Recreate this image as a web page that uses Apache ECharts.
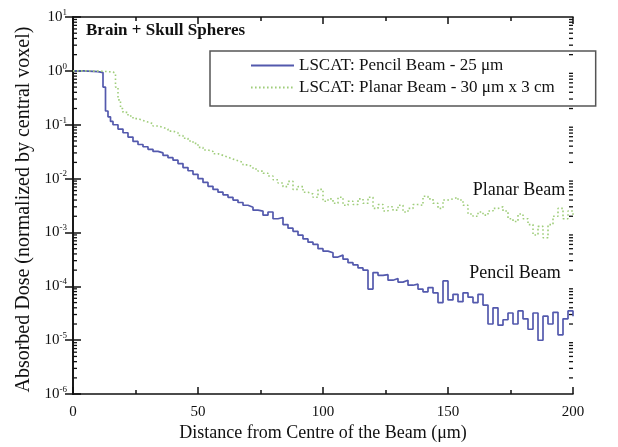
<!DOCTYPE html>
<html><head><meta charset="utf-8">
<script src="https://cdn.jsdelivr.net/npm/echarts@6/dist/echarts.min.js"></script>
<style>html,body{margin:0;padding:0;background:#fff}#c{width:618px;height:447px}</style>
</head><body><div id="c"></div>
<script>
const xPencil = [0,2,4,6,8,10,11,12,13,14,15,16,18,20,22,24,26,28,30,32,34,36,38,40,42,44,46,48,50,52,54,56,58,60,62,64,66,68,70,72,74,76,78,80,82,84,86,88,90,92,94,96,98,100,102,104,106,108,110,112,114,116,118,120,122,124,126,128,130,132,134,136,138,140,142,144,146,148,150,152,154,156,158,160,162,164,166,168,170,172,174,176,178,180,182,184,186,188,190,192,194,196,198,200];
const pencilDose = [1.0,1.0,0.99,0.98,0.97,0.95,0.93,0.5,0.18,0.14,0.115,
 1.0e-1,8.3e-2,7.1e-2,5.9e-2,4.9e-2,4.3e-2,3.9e-2,3.5e-2,3.2e-2,3.0e-2,2.7e-2,2.45e-2,2.2e-2,1.9e-2,1.6e-2,1.4e-2,1.2e-2,
 1.0e-2,8.5e-3,7.2e-3,6.3e-3,5.6e-3,5.0e-3,4.5e-3,4.0e-3,3.6e-3,3.2e-3,2.95e-3,2.6e-3,2.5e-3,2.1e-3,2.4e-3,1.8e-3,1.9e-3,1.4e-3,1.2e-3,1.05e-3,
 8.9e-4,7.6e-4,6.6e-4,6.0e-4,5.0e-4,4.5e-4,4.2e-4,3.5e-4,3.8e-4,3.2e-4,2.75e-4,2.5e-4,2.2e-4,2.0e-4,8.9e-5,1.8e-4,1.6e-4,1.65e-4,1.3e-4,1.4e-4,
 1.2e-4,1.3e-4,1.05e-4,1.1e-4,8.9e-5,7.9e-5,9.5e-5,7.6e-5,5.0e-5,1.26e-4,5.6e-5,7.1e-5,5.2e-5,7.6e-5,6.3e-5,5.0e-5,7.1e-5,4.5e-5,2.0e-5,4.0e-5,
 1.9e-5,2.4e-5,3.2e-5,2.0e-5,3.5e-5,2.5e-5,1.6e-5,3.2e-5,1.0e-5,2.8e-5,2.0e-5,3.3e-5,1.26e-5,2.5e-5,3.5e-5,2.8e-5];
const xPlanar = [0,2,4,6,8,10,12,14,16,17,18,19,20,22,24,26,28,30,32,34,36,38,40,42,44,46,48,50,52,54,56,58,60,62,64,66,68,70,72,74,76,78,80,82,84,86,88,90,92,94,96,98,100,102,104,106,108,110,112,114,116,118,120,122,124,126,128,130,132,134,136,138,140,142,144,146,148,150,152,154,156,158,160,162,164,166,168,170,172,174,176,178,180,182,184,186,188,190,192,194,196,198,200];
const planarDose = [1.0,1.0,1.0,0.99,0.99,0.98,0.97,0.95,0.9,0.5,0.29,0.2,
 0.17,0.145,0.13,0.12,0.112,0.105,0.095,0.089,0.083,0.076,0.071,0.063,0.056,0.05,0.045,
 0.038,0.034,0.032,0.029,0.027,0.025,0.023,0.0214,0.02,0.018,0.0166,0.0151,0.0138,0.0126,0.0112,
 0.0095,0.0083,0.0071,0.0089,0.0063,0.0071,0.0056,0.0052,0.0045,0.0063,
 0.0038,0.0042,0.0035,0.0045,0.0032,0.0038,0.0033,0.0042,0.0035,0.0045,
 0.0028,0.0033,0.0025,0.003,0.0026,0.0032,0.0024,0.0028,0.0033,0.0032,
 0.0047,0.0042,0.0035,0.0028,0.004,0.0042,0.0045,0.004,0.0032,0.0022,
 0.002,0.0024,0.0021,0.0025,0.0028,0.003,0.0025,0.0018,0.0016,0.0022,
 0.0018,0.0014,0.0009,0.0013,0.0008,0.0014,0.002,0.0028,0.0018,0.0025,0.002];
const xTicks = {min: 0, max: 200, interval: 50};
const yDecades = {minExp: -6, maxExp: 1};
const legendNames = ['LSCAT: Pencil Beam - 25 \u03bcm', 'LSCAT: Planar Beam - 30 \u03bcm x 3 cm'];
const annotations = ['Planar Beam', 'Pencil Beam'];

const FONT = "'Liberation Serif', 'DejaVu Serif', serif";
const yMin = Math.pow(10, yDecades.minExp), yMax = Math.pow(10, yDecades.maxExp);
const minorVals = [];
for (let e = yDecades.minExp; e < yDecades.maxExp; e++) {
  for (let k = 2; k <= 9; k++) minorVals.push([0, k * Math.pow(10, e)]);
}
const chart = echarts.init(document.getElementById('c'), null, {renderer: 'canvas'});
const axisLine = {show: true, lineStyle: {color: '#111', width: 1.6}};
chart.setOption({
  animation: false,
  backgroundColor: '#fff',
  title: {text: 'Brain + Skull Spheres', left: 86, top: 22, padding: 0,
    textStyle: {fontFamily: FONT, fontWeight: 'bold', fontSize: 17, color: '#111'}},
  grid: {left: 73, right: 45, top: 17, bottom: 51, containLabel: false},
  legend: {
    data: legendNames, orient: 'vertical', left: 210, top: 51,
    padding: [6, 41, 10, 40], itemWidth: 43, itemHeight: 14, itemGap: 5,
    borderColor: '#555', borderWidth: 1.5, selectedMode: false,
    itemStyle: {opacity: 0, borderWidth: 0},
    textStyle: {fontFamily: FONT, fontSize: 17, color: '#111'}
  },
  xAxis: [{
    type: 'value', min: xTicks.min, max: xTicks.max, interval: xTicks.interval,
    name: 'Distance from Centre of the Beam (\u03bcm)', nameLocation: 'middle', nameGap: 28,
    nameTextStyle: {fontFamily: FONT, fontSize: 18, color: '#111'},
    axisLine: axisLine, splitLine: {show: false},
    axisTick: {inside: true, length: 7, lineStyle: {color: '#111', width: 1.5}},
    minorTick: {show: true, splitNumber: 2, length: 4, lineStyle: {color: '#111', width: 1.5}},
    axisLabel: {fontFamily: FONT, fontSize: 15, color: '#111', margin: 10}
  }, {
    type: 'value', position: 'top', min: xTicks.min, max: xTicks.max, interval: xTicks.interval,
    axisLine: axisLine, splitLine: {show: false}, axisLabel: {show: false},
    axisTick: {inside: true, length: 7, lineStyle: {color: '#111', width: 1.5}},
    minorTick: {show: true, splitNumber: 2, length: 4, lineStyle: {color: '#111', width: 1.5}}
  }],
  yAxis: [{
    type: 'log', logBase: 10, min: yMin, max: yMax, interval: 1,
    name: 'Absorbed Dose (normalized by central voxel)', nameLocation: 'middle', nameGap: 33,
    nameTextStyle: {fontFamily: FONT, fontSize: 20, color: '#111', padding: [0, 0, 0, -8]},
    axisLine: axisLine, splitLine: {show: false},
    axisTick: {inside: true, length: 8, lineStyle: {color: '#111', width: 1.5}},
    axisLabel: {
      margin: 6,
      formatter: function (v) { const e = Math.round(Math.log10(v)); return '{b|10}{s|' + e + '}'; },
      rich: {
        b: {fontFamily: FONT, fontSize: 15, color: '#111'},
        s: {fontFamily: FONT, fontSize: 9, color: '#111', padding: [0, 0, 9, 0]}
      }
    }
  }, {
    type: 'log', logBase: 10, min: yMin, max: yMax, interval: 1, position: 'right',
    axisLine: axisLine, splitLine: {show: false}, axisLabel: {show: false},
    axisTick: {inside: true, length: 8, lineStyle: {color: '#111', width: 1.5}}
  }],
  series: [{
    name: legendNames[0], type: 'line', step: 'end', symbol: 'none',
    data: xPencil.map((x, i) => [x, pencilDose[i]]),
    lineStyle: {color: '#5359ad', width: 1.7}, itemStyle: {color: '#5359ad'}
  }, {
    name: legendNames[1], type: 'line', step: 'end', symbol: 'none',
    data: xPlanar.map((x, i) => [x, planarDose[i]]),
    lineStyle: {color: '#9fcd7a', width: 1.6, type: [1.6, 2.4]}, itemStyle: {color: '#9fcd7a'}
  }, {
    type: 'custom', silent: true, clip: false, data: minorVals,
    renderItem: function (params, api) {
      const v = api.value(1);
      const pl = api.coord([xTicks.min, v]);
      const pr = api.coord([xTicks.max, v]);
      return {type: 'group', children: [
        {type: 'line', shape: {x1: pl[0], y1: pl[1], x2: pl[0] + 4, y2: pl[1]}, style: {stroke: '#111', lineWidth: 1.3}},
        {type: 'line', shape: {x1: pr[0], y1: pr[1], x2: pr[0] - 4, y2: pr[1]}, style: {stroke: '#111', lineWidth: 1.3}}
      ]};
    }
  }],
  graphic: [
    {type: 'text', x: 519, y: 190, style: {text: annotations[0], font: '18px ' + FONT, fill: '#111', align: 'center', verticalAlign: 'middle'}},
    {type: 'text', x: 515, y: 273, style: {text: annotations[1], font: '18px ' + FONT, fill: '#111', align: 'center', verticalAlign: 'middle'}}
  ]
});
</script></body></html>
